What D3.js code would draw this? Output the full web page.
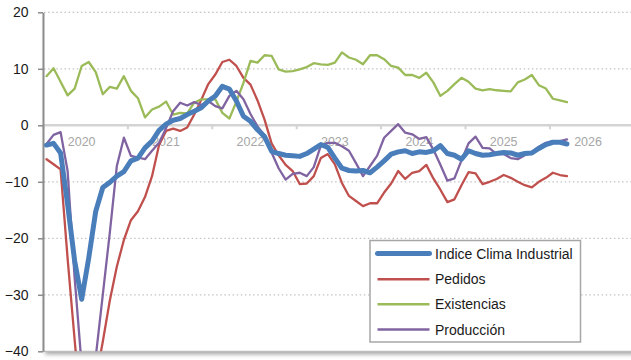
<!DOCTYPE html>
<html><head><meta charset="utf-8">
<script src="https://cdn.jsdelivr.net/npm/d3@7"></script>
<style>body{margin:0;background:#fff}svg{display:block}</style>
</head><body><svg id="c" width="631" height="360"></svg>
<script>
// Monthly categories: Nov 2019 .. Jan 2026
const months = d3.timeMonth.range(new Date(2019, 10, 1), new Date(2026, 1, 1));

const ici = [-3.5,-3.2,-4.9,-14,-24,-30.8,-23.5,-15.2,-11.0,-10.1,-9.0,-8.2,-6.3,-5.8,-4.0,-2.8,-0.9,0.2,0.9,1.2,
  1.9,2.5,3.1,4.3,5.2,6.9,6.4,4.3,1.6,0.7,-0.8,-2.0,-4.6,-5.0,-5.3,-5.4,-5.5,-5.0,-4.2,-3.4,
  -3.9,-5.8,-7.6,-8.0,-8.1,-8.0,-8.4,-7.4,-6.3,-5.1,-4.7,-4.5,-5.0,-4.7,-4.8,-4.5,-3.6,-5.0,-5.3,-6.0,
  -4.5,-5.0,-5.3,-5.2,-5.0,-4.8,-4.9,-5.3,-5.0,-4.9,-4.1,-3.4,-3.0,-3.0,-3.3];
const pedidos = [-6.0,-6.9,-7.8,-23.6,-38,-52,-56,-45,-38.3,-31,-25,-20.3,-16.8,-15.2,-12.7,-9.0,-3.5,-1.0,-0.6,-1.0,
  -0.4,1.9,4.5,7.3,9.0,11.2,11.6,10.5,8.4,7.2,4.4,1.0,-3.2,-5.3,-7.0,-8.1,-10.4,-10.3,-9.0,-5.8,
  -5.1,-6.9,-10.2,-12.5,-13.4,-14.3,-13.8,-13.8,-11.9,-10.3,-8.1,-9.5,-8.4,-8.1,-7.0,-9.4,-11.4,-13.6,-13.1,-10.6,
  -8.3,-8.5,-10.4,-10.0,-9.5,-8.8,-9.3,-10.0,-10.6,-11.0,-10.0,-9.3,-8.4,-8.8,-9.0];
const existencias = [8.7,10.1,7.7,5.3,6.5,10.5,11.2,9.4,5.5,6.8,6.5,8.7,6.1,4.8,1.4,2.8,3.3,4.2,1.9,2.2,
  2.1,4.0,4.6,4.6,4.6,2.2,1.2,4.2,7.5,11.4,11.1,12.4,12.3,9.9,9.5,9.6,9.9,10.3,11.0,10.8,
  10.7,11.1,12.9,12.0,11.6,10.8,12.4,12.4,11.7,10.5,10.2,8.9,8.9,8.4,9.3,7.6,5.2,6.1,7.3,8.4,
  7.7,6.5,6.2,6.4,6.2,6.1,6.0,7.6,8.1,8.9,7.1,6.5,4.7,4.4,4.1];
const produccion = [-3.3,-1.7,-1.2,-8.1,-27,-42.5,-55,-41,-30,-19,-7.2,-2.2,-5.4,-5.7,-6.0,-4.5,-3.1,-0.5,2.5,4.0,
  3.5,4.1,3.6,4.3,3.4,3.0,5.2,6.1,4.6,2.0,-0.2,-1.8,-4.8,-7.6,-9.6,-8.6,-8.4,-9.0,-7.4,-3.6,
  -3.1,-3.1,-3.7,-4.5,-6.7,-9.0,-7.2,-5.4,-2.2,-1.0,0.2,-1.3,-1.6,-2.4,-2.1,-4.3,-7.0,-9.8,-9.4,-6.2,
  -3.2,-2.0,-4.0,-4.1,-5.1,-5.1,-5.8,-6.0,-5.3,-4.7,-3.8,-3.1,-2.8,-2.8,-2.5];

const seriesNames = ["Indice Clima Industrial", "Pedidos", "Existencias", "Producción"];
const seriesData = [ici, pedidos, existencias, produccion];
const seriesColors = ["#4A7EBB", "#C0504D", "#9BBB59", "#8064A2"];
const seriesWidths = [5, 2.3, 2.3, 2.3];

const yTicks = [-40, -30, -20, -10, 0, 10, 20];
const yearLabels = ["2020", "2021", "2022", "2023", "2024", "2025", "2026"];

const svg = d3.select("#c");
const x = d3.scaleLinear().domain([-0.5, 83.5]).range([43, 633.8]);
const y = d3.scaleLinear().domain([-40, 20]).range([351.3, 12.3]);

// plot area shadow
const defs = svg.append("defs");
const f = defs.append("filter").attr("id", "sh").attr("x", "-5%").attr("y", "-5%").attr("width", "110%").attr("height", "115%");
f.append("feDropShadow").attr("dx", 2).attr("dy", 3).attr("stdDeviation", 2).attr("flood-color", "#000").attr("flood-opacity", 0.35);
defs.append("clipPath").attr("id", "clip").append("rect")
  .attr("x", 43).attr("y", y(20) - 1).attr("width", 600).attr("height", y(-40) - y(20) + 1);

svg.append("rect").attr("x", 43).attr("y", y(20)).attr("width", 600).attr("height", y(-40) - y(20))
  .attr("fill", "#fff").attr("filter", "url(#sh)");

// gridlines
svg.append("g").selectAll("line").data(yTicks.filter(d => d !== 0)).join("line")
  .attr("x1", 44).attr("x2", 631).attr("y1", d => y(d)).attr("y2", d => y(d))
  .attr("stroke", d => d === -40 ? "#bdbdbd" : "#c4c4c4").attr("stroke-width", 1.3)
  .attr("stroke-dasharray", d => d === -40 ? null : "1.5,2.6");

// x axis (at zero)
const tickIdx = d3.range(0, 8).map(k => -0.5 + 12 * k);
const xAxis = svg.append("g").attr("transform", `translate(0,${y(0)})`)
  .call(d3.axisBottom(x).tickValues(tickIdx).tickSize(4).tickSizeOuter(0).tickFormat(""));
xAxis.select(".domain").attr("stroke", "#d3d3d3").attr("stroke-width", 2.5).attr("d", "M43,0H631");
xAxis.selectAll(".tick line").attr("stroke", "#d3d3d3").attr("stroke-width", 2);

svg.append("g").selectAll("text").data(yearLabels).join("text")
  .attr("x", (d, i) => x(12 * i + 5)).attr("y", y(0) + 21)
  .attr("text-anchor", "middle").attr("fill", "#a6a6a6")
  .style("font", "12.5px 'Liberation Sans', Arial, sans-serif").text(d => d);

// y axis
const yAxis = svg.append("g").attr("transform", "translate(43,0)")
  .call(d3.axisLeft(y).tickValues(yTicks).tickSize(5).tickSizeOuter(0).tickPadding(9.5));
yAxis.select(".domain").attr("stroke", "#8c8c8c").attr("stroke-width", 2);
yAxis.selectAll(".tick line").attr("stroke", "#8c8c8c").attr("stroke-width", 1.5);
yAxis.selectAll(".tick text").attr("fill", "#1a1a1a").style("font", "14px 'Liberation Sans', Arial, sans-serif");

// series
const line = d3.line().x((d, i) => x(i)).y(d => y(d));
const g = svg.append("g").attr("clip-path", "url(#clip)");
[1, 2, 3, 0].forEach(k => {
  g.append("path").datum(seriesData[k]).attr("d", line)
    .attr("fill", "none").attr("stroke", seriesColors[k]).attr("stroke-width", seriesWidths[k])
    .attr("stroke-linejoin", "round").attr("stroke-linecap", "round");
});

// legend
const lg = svg.append("g");
lg.append("rect").attr("x", 370).attr("y", 240.5).attr("width", 210.5).attr("height", 101.5)
  .attr("fill", "#fff").attr("stroke", "#a6a6a6").attr("stroke-width", 1.5);
const rowY = [253.5, 279.3, 304.2, 329.5];
seriesNames.forEach((n, k) => {
  lg.append("line").attr("x1", 377.5).attr("x2", 429.5).attr("y1", rowY[k]).attr("y2", rowY[k])
    .attr("stroke", seriesColors[k]).attr("stroke-width", seriesWidths[k] === 5 ? 5 : 2.5).attr("stroke-linecap", k === 0 ? "round" : "butt");
  lg.append("text").attr("x", 435).attr("y", rowY[k]).attr("dy", "0.36em")
    .attr("fill", "#1a1a1a").style("font", "14px 'Liberation Sans', Arial, sans-serif").text(n);
});
</script></body></html>
